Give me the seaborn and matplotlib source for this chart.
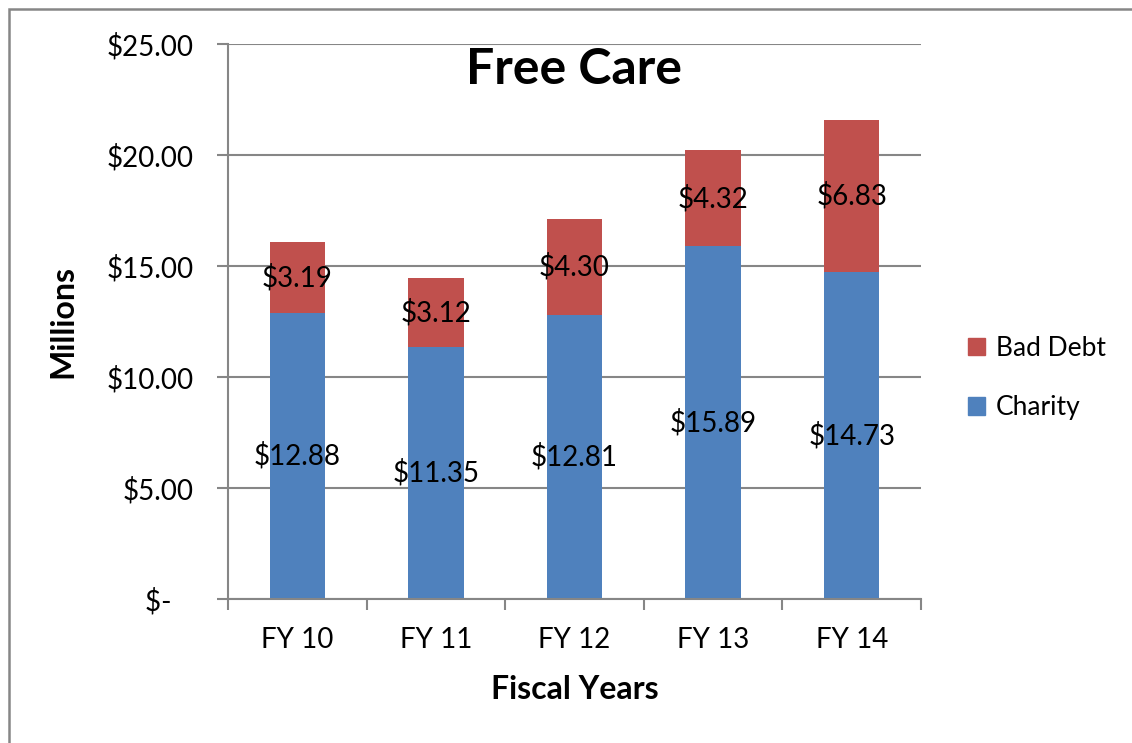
import matplotlib.pyplot as plt
import numpy as np
import pandas as pd
import seaborn as sns
from matplotlib.patches import Patch, Rectangle

years = ['FY 10', 'FY 11', 'FY 12', 'FY 13', 'FY 14']
charity = [12.88, 11.35, 12.81, 15.89, 14.73]
bad_debt = [3.19, 3.12, 4.30, 4.32, 6.83]

blue = '#4F81BD'
red = '#C0504D'
grey = '#868686'

sns.set_style('white')
plt.rcParams['font.family'] = ['Lato', 'DejaVu Sans']
plt.rcParams['text.color'] = 'black'
plt.rcParams['xtick.color'] = 'black'
plt.rcParams['ytick.color'] = 'black'
plt.rcParams['axes.labelcolor'] = 'black'

df = pd.DataFrame({'year': years, 'charity': charity, 'bad_debt': bad_debt})
df['total'] = df.charity + df.bad_debt

fig = plt.figure(figsize=(11.32, 7.43), dpi=100)
ax = fig.add_axes([228 / 1132, 1 - 599 / 743, (921 - 228) / 1132, (599 - 44) / 743])

# stacked bars: total in red, charity drawn over it in blue
sns.barplot(data=df, x='year', y='total', color=red, width=0.4, saturation=1,
            linewidth=0, ax=ax)
sns.barplot(data=df, x='year', y='charity', color=blue, width=0.4, saturation=1,
            linewidth=0, ax=ax)

for i, row in df.iterrows():
    ax.text(i, row.charity / 2, f'${row.charity:.2f}', ha='center', va='center', fontsize=20)
    ax.text(i, row.charity + row.bad_debt / 2, f'${row.bad_debt:.2f}', ha='center', va='center', fontsize=20)

ax.set_ylim(0, 25)
ax.set_xlim(-0.5, 4.5)
yt = np.arange(0, 26, 5)
ax.set_yticks(yt)
ax.set_yticklabels(['$-   '] + [f'${v:.2f}' for v in yt[1:]], fontsize=20)
ax.yaxis.grid(True, color=grey, lw=1.5)
ax.set_axisbelow(True)
ax.tick_params(axis='y', length=8, width=1.5, color=grey, direction='out', pad=17, left=True)
ax.tick_params(axis='x', which='major', length=0, pad=20, labelsize=20)
ax.set_xticks(np.arange(-0.5, 5, 1), minor=True)
ax.tick_params(axis='x', which='minor', length=8, width=1.5, color=grey, direction='out', bottom=True)

for s in ['top', 'right']:
    ax.spines[s].set_visible(False)
for s in ['left', 'bottom']:
    ax.spines[s].set_color(grey)
    ax.spines[s].set_linewidth(1.5)

ax.set_xlabel('Fiscal Years', fontsize=23, fontweight='bold', labelpad=16)
ax.set_ylabel('Millions', fontsize=23, fontweight='bold', labelpad=21)

fig.text(574 / 1132, 1 - 70 / 743, 'Free Care', ha='center', va='center', fontsize=36, fontweight='bold')

handles = [Patch(color=red, label='Bad Debt'), Patch(color=blue, label='Charity')]
fig.legend(handles=handles, loc='center left', bbox_to_anchor=(968 / 1132, 1 - 378 / 743),
           frameon=False, fontsize=19, handlelength=0.65, handleheight=0.65,
           handletextpad=0.4, labelspacing=1.3, borderpad=0, borderaxespad=0)

fig.add_artist(Rectangle((8.5 / 1132, -0.1), 1.2, 1.1 - 9 / 743, transform=fig.transFigure,
                         fill=False, edgecolor=grey, lw=1.8))

fig.savefig('out.png', dpi=100)
